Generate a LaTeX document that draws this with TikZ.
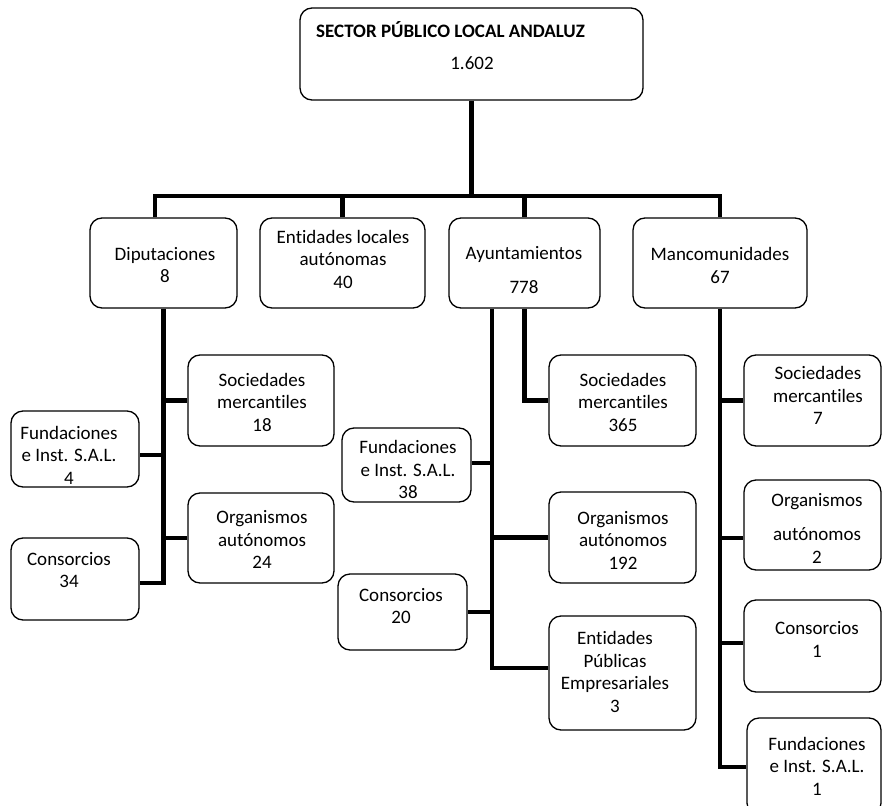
\documentclass[tikz,border=0pt]{standalone}
\usepackage{fontspec}
\setmainfont{Carlito}[RawFeature={-liga;-clig;-dlig}]
\begin{document}
\begin{tikzpicture}[x=1pt,y=-1pt,
  box/.style={draw=black, line width=1.3pt, rounded corners=12pt, fill=white, inner sep=0pt},
  txt/.style={align=center, inner sep=0pt, font=\fontsize{19}{22.5}\selectfont},
  conn/.style={draw=black, line width=4.5pt, line join=miter}]
\useasboundingbox (0,0) rectangle (882,805);
\newcommand\mkbox[5]{\node[box, minimum width={(#4)-(#2)}, minimum height={(#5)-(#3)}] (#1) at ({((#2)+(#4))/2},{((#3)+(#5))/2}) {};}
% boxes
\mkbox{top}{300}{8}{643}{100}
\mkbox{dip}{90}{218}{237}{308}
\mkbox{ela}{260}{218}{425}{308}
\mkbox{ayu}{449}{218}{600}{308}
\mkbox{man}{633}{218}{807}{308}
\mkbox{soc18}{188}{355}{334}{446}
\mkbox{fund4}{11}{411}{139}{487}
\mkbox{org24}{188}{493}{334}{583}
\mkbox{c34}{11}{538}{139}{620}
\mkbox{soc365}{549}{355}{696}{446}
\mkbox{fund38}{342}{428}{471}{502}
\mkbox{org192}{549}{492}{696}{583}
\mkbox{c20}{338}{574}{467}{650}
\mkbox{epe3}{549}{616}{696}{730}
\mkbox{soc7}{744}{355}{881}{446}
\mkbox{org2}{744}{480}{881}{570}
\mkbox{c1}{744}{600}{881}{692}
\mkbox{fund1}{747}{718}{881}{815}
% texts
\node[txt, anchor=west, font=\fontsize{19}{22.5}\selectfont\bfseries] (t-top) at (316,30) {SECTOR PÚBLICO LOCAL ANDALUZ};
\node[txt] (t-topn) at (472,63) {1.602};
\node[txt] (t-dip) at (165,265) {Diputaciones\\8};
\node[txt] (t-ela) at (343,259) {Entidades locales\\autónomas\\40};
\node[txt] (t-ayu) at (524,270) {Ayuntamientos\\[11pt]778};
\node[txt] (t-man) at (720,265.5) {Mancomunidades\\67};
\node[txt] (t-soc18) at (262,402) {Sociedades\\mercantiles\\18};
\node[txt] (t-fund4) at (69,455) {Fundaciones\\e Inst. S.A.L.\\4};
\node[txt] (t-org24) at (262,539.5) {Organismos\\autónomos\\24};
\node[txt] (t-c34) at (69,570) {Consorcios\\34};
\node[txt] (t-soc365) at (623,402) {Sociedades\\mercantiles\\365};
\node[txt] (t-fund38) at (408,469.5) {Fundaciones\\e Inst. S.A.L.\\38};
\node[txt] (t-org192) at (623,540) {Organismos\\autónomos\\192};
\node[txt] (t-c20) at (401,606) {Consorcios\\20};
\node[txt] (t-epe3) at (615,672) {Entidades\\Públicas\\Empresariales\\3};
\node[txt] (t-soc7) at (818,395.5) {Sociedades\\mercantiles\\7};
\node[txt] (t-org2) at (817,528) {Organismos\\[12pt]autónomos\\2};
\node[txt] (t-c1) at (817,639.5) {Consorcios\\1};
\node[txt] (t-fund1) at (817,766) {Fundaciones\\e Inst. S.A.L.\\1};
% main bus
\coordinate (busL) at (155,196);
\coordinate (busR) at (720,196);
\draw[conn] (top.south) -- (top.south |- busL);
\draw[conn] (busL |- dip.north) -- (busL) -- (busR) -- (man.north);
\draw[conn] (ela.north) -- (ela.north |- busL);
\draw[conn] (ayu.north) -- (ayu.north |- busL);
% Diputaciones
\coordinate (dipEnd) at (163,583);
\coordinate (dF) at (163,455);
\draw[conn] (dip.south) -- (dip.south |- dipEnd) -- (c34.east |- dipEnd);
\draw[conn] (dip.south |- soc18.west) -- (soc18.west);
\draw[conn] (dF) -- (fund4.east |- dF);
\draw[conn] (dip.south |- org24.west) -- (org24.west);
% Ayuntamientos
\coordinate (ayA) at (492,668);
\coordinate (aF) at (492,463);
\draw[conn] (ayA |- ayu.south) -- (ayA) -- (epe3.west |- ayA);
\draw[conn] (aF) -- (fund38.east |- aF);
\draw[conn] (ayA |- org192.west) -- (org192.west);
\draw[conn] (ayA |- c20.east) -- (c20.east);
\draw[conn] (ayu.south) |- (soc365.west);
% Mancomunidades
\coordinate (mEnd) at (720,767);
\coordinate (mO) at (720,538);
\coordinate (mC) at (720,643);
\draw[conn] (man.south) -- (man.south |- mEnd) -- (fund1.west |- mEnd);
\draw[conn] (man.south |- soc7.west) -- (soc7.west);
\draw[conn] (mO) -- (org2.west |- mO);
\draw[conn] (mC) -- (c1.west |- mC);
\end{tikzpicture}
\end{document}
